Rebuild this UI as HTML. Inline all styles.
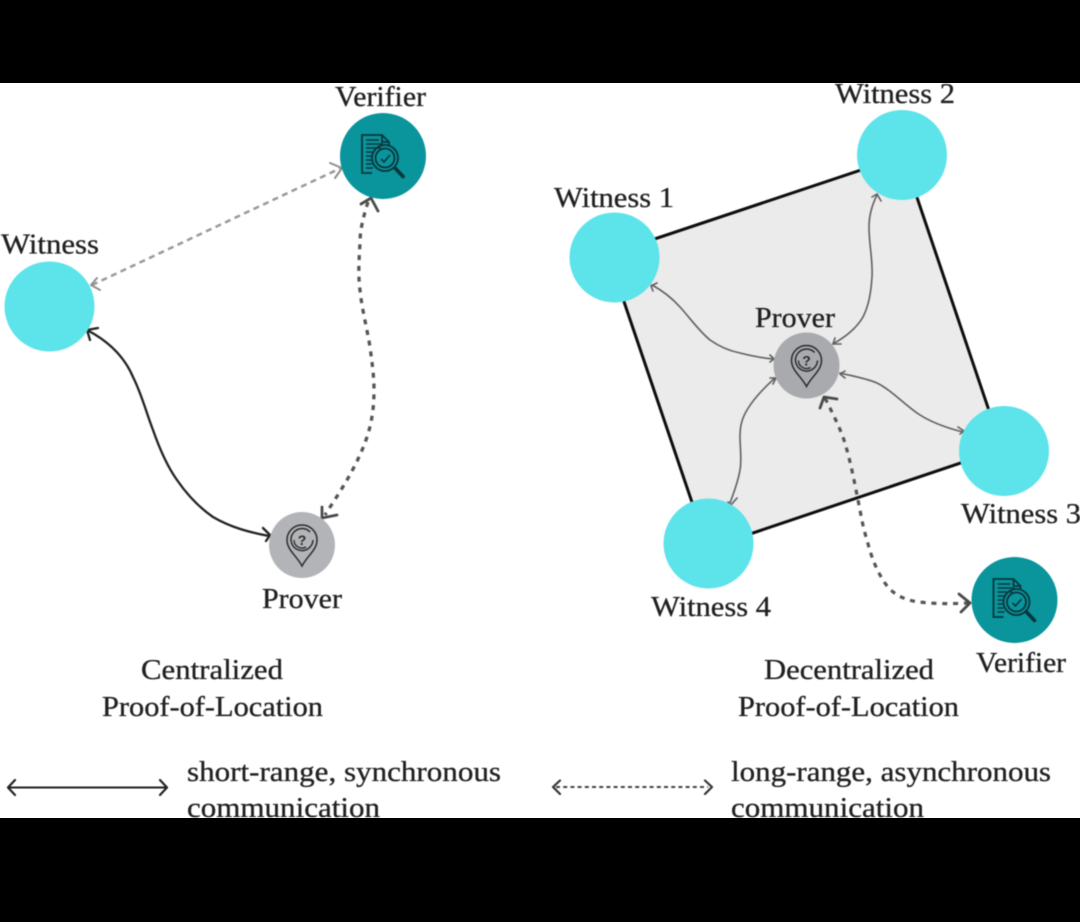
<!DOCTYPE html>
<html><head><meta charset="utf-8"><style>
html,body{margin:0;padding:0;background:#000;width:1080px;height:922px;overflow:hidden}
svg{display:block}
text{font-family:"Liberation Serif",serif;font-size:28px;fill:#202020;stroke:#202020;stroke-width:.3px}
text.q{font-size:14px;font-weight:bold;font-family:"Liberation Sans",sans-serif;stroke-width:0;fill:#2b2b2b;text-anchor:middle}
.soft{filter:blur(.45px)}
</style></head><body>
<svg width="1080" height="922" viewBox="0 0 1080 922" xmlns="http://www.w3.org/2000/svg">
<defs>
<g id="doc" fill="none" stroke="#07363c" stroke-width="1.800">
<path d="M-11 17H-21V-21H-1L6-14V-10M-1-21V-14H6"/>
<path d="M-17-16H-4M-17-12H0M-17-8H-2M-17-4H-9M-17 0H-11M-17 4H-11M-17 8H-11M-17 12H-10" stroke-width="1.400"/>
<circle cx="2" cy="2" r="13"/><circle cx="2" cy="2" r="9.500"/>
<path d="M-2 3l3 3 6-7" stroke-width="1.600"/><path d="M12 12l8 8.500" stroke-width="3.600" stroke-linecap="round"/>
</g>
<g id="pin" fill="none" stroke="#2b2b2b" stroke-width="1.500">
<path d="M0 21C-5 11-15 5-15-5A15 15 0 0 1 15-5C15 5 5 11 0 21Z"/>
<path d="M11-5A11 11 0 1 1 8-13"/>
<path d="M-8-5A8 8 0 0 0 4 2" stroke-width="1.300"/>
<text class="q" x="0" y="0">?</text>
</g>
</defs>
<rect x="0" y="0" width="1080" height="922" fill="#000"/>
<rect x="0" y="83" width="1080" height="735" fill="#fff"/>

<g class="soft">
<!-- right square -->
<polygon points="608,254.500 903,156 1002,449 707.600,548.300" fill="#ebebeb" stroke="#0d0d0d" stroke-width="3"/>

<!-- left connectors -->
<g fill="none" stroke-linejoin="round">
<path d="M92 285L341 168" stroke="#999" stroke-width="2.500" stroke-dasharray="6 4.500"/>
<path d="M330 163L342 168L335 178M97 278L91 285L100 290" stroke="#8f8f8f" stroke-width="2" stroke-linecap="round"/>
<path d="M368 202C363 218 360 230 360 243C359 260 358 275 360 290C362 310 367 328 370 347C372 362 374 376 374 390C374 407 372 422 367 437C362 452 355 466 347 480C340 492 332 504 325 515" stroke="#555" stroke-width="3.300" stroke-dasharray="5 5.800"/>
<path d="M361 204L371 198L378 211M322 507L322 518L337 515" stroke="#4a4a4a" stroke-width="2.800" stroke-linecap="round"/>
<path d="M87 330C110 342 125 358 133 377C142 395 146 412 153 430C160 450 167 466 177 480C188 496 200 508 213 517C230 527 248 532 269 536" stroke="#222" stroke-width="2.300"/>
<path d="M90 340L87 330L98 328M263 528L270 535L266 541" stroke="#222" stroke-width="2.300" stroke-linecap="round"/>
</g>

<!-- right connectors -->
<g fill="none" stroke="#5f5f5f" stroke-width="1.600" stroke-linecap="round" stroke-linejoin="round">
<path d="M652 285C663 291 672 298 680 307C690 318 699 331 710 340C720 347 730 351 740 353C752 356 762 358 773 359"/>
<path d="M657 283L651 286L653 291M770 355L774 359L770 362"/>
<path d="M877 195C872 205 869 215 869 227C869 245 873 260 872 277C871 292 869 305 863 317C856 329 845 337 833 344"/>
<path d="M872 197L877 194L881 201M835 338L833 344L841 344"/>
<path d="M840 373C852 376 865 378 877 383C891 390 904 404 917 413C930 422 947 428 963 432"/>
<path d="M845 371L840 374L845 378M958 427L964 431L960 434"/>
<path d="M775 378C765 387 754 398 747 410C741 420 740 428 740 437C740 448 742 459 740 470C738 482 734 492 730 503"/>
<path d="M770 378L776 378L773 384M728 502L731 505L737 498"/>
</g>
<g fill="none" stroke-linejoin="round">
<path d="M825 398C832 412 838 424 843 437C850 458 854 480 858 500C861 515 863 528 867 540C871 556 876 569 883 580C890 592 900 598 913 601C930 604 950 604 968 603" stroke="#555" stroke-width="3.200" stroke-dasharray="5 5.800"/>
<path d="M820 408L824 397L837 399M959 594L970 603L961 612" stroke="#4a4a4a" stroke-width="2.800" stroke-linecap="round"/>
</g>

<!-- nodes -->
<circle cx="49.500" cy="306.500" r="45" fill="#5de3ea"/>
<circle cx="383" cy="156" r="43" fill="#0a949b"/>
<use href="#doc" x="383" y="156"/>
<circle cx="302" cy="545" r="33" fill="#b3b4b8"/>
<use href="#pin" x="302" y="545"/>

<circle cx="614.500" cy="257.500" r="45" fill="#5de3ea"/>
<circle cx="902" cy="155" r="45" fill="#5de3ea"/>
<circle cx="1004" cy="451" r="45" fill="#5de3ea"/>
<circle cx="708.500" cy="543.500" r="45" fill="#5de3ea"/>
<circle cx="806.500" cy="365.500" r="33" fill="#a9aaae"/>
<use href="#pin" x="806.500" y="365.500"/>
<circle cx="1014.500" cy="600" r="43" fill="#0a949b"/>
<use href="#doc" x="1014.500" y="600"/>

<!-- labels -->
<text x="335" y="106" textLength="91" lengthAdjust="spacingAndGlyphs">Verifier</text>
<text x="1" y="253.500" textLength="98" lengthAdjust="spacingAndGlyphs">Witness</text>
<text x="262" y="608" textLength="80" lengthAdjust="spacingAndGlyphs">Prover</text>
<text x="141" y="679" textLength="142" lengthAdjust="spacingAndGlyphs">Centralized</text>
<text x="102" y="716" textLength="221" lengthAdjust="spacingAndGlyphs">Proof-of-Location</text>
<text x="835" y="103" textLength="120" lengthAdjust="spacingAndGlyphs">Witness 2</text>
<text x="554" y="207" textLength="120" lengthAdjust="spacingAndGlyphs">Witness 1</text>
<text x="755" y="327" textLength="80" lengthAdjust="spacingAndGlyphs">Prover</text>
<text x="961" y="523" textLength="120" lengthAdjust="spacingAndGlyphs">Witness 3</text>
<text x="651" y="616" textLength="120" lengthAdjust="spacingAndGlyphs">Witness 4</text>
<text x="976" y="672" textLength="90" lengthAdjust="spacingAndGlyphs">Verifier</text>
<text x="764" y="679" textLength="170" lengthAdjust="spacingAndGlyphs">Decentralized</text>
<text x="738" y="716" textLength="221" lengthAdjust="spacingAndGlyphs">Proof-of-Location</text>

<!-- legend -->
<g fill="none" stroke-linejoin="round">
<path d="M9 787.500H166" stroke="#222" stroke-width="2"/>
<path d="M15 780L8 787.500L15 795M160 780L167 787.500L160 795" stroke="#222" stroke-width="2.200" stroke-linecap="round"/>
<path d="M556 787H708" stroke="#444" stroke-width="2" stroke-dasharray="4 3.200"/>
<path d="M560 780.500L553 787L560 794M705 780.500L712 787L705 794" stroke="#333" stroke-width="2.200" stroke-linecap="round"/>
</g>
<text x="187" y="781" textLength="314" lengthAdjust="spacingAndGlyphs">short-range, synchronous</text>
<text x="187" y="817" textLength="193" lengthAdjust="spacingAndGlyphs">communication</text>
<text x="731" y="781" textLength="320" lengthAdjust="spacingAndGlyphs">long-range, asynchronous</text>
<text x="731" y="817" textLength="193" lengthAdjust="spacingAndGlyphs">communication</text>
</g>
<rect x="0" y="0" width="1080" height="83" fill="#000"/>
<rect x="0" y="818" width="1080" height="104" fill="#000"/>
</svg>
</body></html>
